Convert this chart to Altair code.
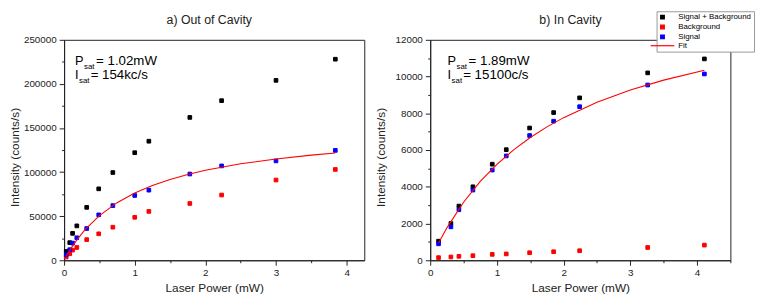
import altair as alt
import pandas as pd

FONT = "Liberation Sans"

series_names = ["Signal + Background", "Background", "Signal", "Fit"]
series_colors = ["#000000", "#ff0000", "#0000ff", "#ff0000"]

# ---- panel a) Out of Cavity ----
a_power = [0.03, 0.08, 0.12, 0.18, 0.32, 0.49, 0.69, 1.00, 1.20, 1.78, 2.23, 3.00, 3.84]
a_total = [10000, 20000, 30500, 39000, 60000, 81000, 99500, 122000, 135000, 162000, 181000, 204000, 228000]
a_background = [3700, 7400, 11500, 14500, 23400, 30000, 37500, 48700, 55400, 64400, 74000, 91000, 103000]
a_signal = [6300, 12000, 19500, 25500, 36000, 51500, 62000, 73500, 79500, 97800, 107000, 112700, 124600]
a_fit_power = [0.03, 0.1, 0.2, 0.3, 0.5, 0.75, 1.0, 1.25, 1.5, 1.75, 2.0, 2.5, 3.0, 3.5, 3.84]
a_fit_intensity = [4400, 13800, 25200, 35000, 50700, 65300, 76200, 84800, 91700, 97300, 102000,
                   109400, 114900, 119200, 121700]

# ---- panel b) In Cavity ----
b_power = [0.125, 0.31, 0.43, 0.64, 0.93, 1.14, 1.49, 1.85, 2.24, 3.26, 4.11]
b_total = [1040, 2000, 2950, 4000, 5230, 6020, 7200, 8040, 8840, 10200, 10960]
b_background = [145, 180, 215, 250, 320, 345, 410, 465, 520, 695, 825]
b_signal = [895, 1820, 2750, 3820, 4910, 5680, 6790, 7570, 8360, 9540, 10140]
b_fit_power = [0.125, 0.25, 0.5, 0.75, 1.0, 1.25, 1.5, 1.75, 2.0, 2.5, 3.0, 3.5, 4.11]
b_fit_intensity = [937, 1764, 3159, 4293, 5225, 6011, 6681, 7260, 7763, 8600, 9264, 9805, 10343]

a_x_ticks = [0, 0.5, 1, 1.5, 2, 2.5, 3, 3.5, 4]
a_y_ticks = list(range(0, 250001, 25000))
b_x_ticks = [0, 0.5, 1, 1.5, 2, 2.5, 3, 3.5, 4, 4.5]
b_y_ticks = list(range(0, 12001, 1000))

SQ = "M-0.62,-0.62H0.62V0.62H-0.62Z"
LINE = "M-4,0H4"

legend = alt.Legend(
    title=None, orient="none", legendX=602, legendY=-29,
    labelFont=FONT, labelFontSize=8, labelColor="black", labelOffset=12,
    symbolSize=36, symbolStrokeWidth=1.2,
    fillColor="white", strokeColor="#999999", padding=2, rowPadding=0,
)


def points_df(power, total, background, signal):
    rows = []
    for name, vals in [(series_names[0], total), (series_names[1], background), (series_names[2], signal)]:
        for p, v in zip(power, vals):
            rows.append({"power": p, "intensity": v, "series": name})
    return pd.DataFrame(rows)


def x_axis(vals):
    return alt.Axis(
        values=vals, title="Laser Power (mW)",
        labelExpr="datum.value % 1 == 0 ? format(datum.value, 'd') : ''",
        tickSize={"condition": {"test": "datum.value % 1 != 0", "value": 2.5}, "value": 5},
        labelFont=FONT, labelFontSize=10, labelColor="#222222", labelPadding=2,
        labelFlush=False, labelOverlap=False,
        titleFont=FONT, titleFontSize=12, titleFontWeight="normal", titleColor="#222222",
        titlePadding=6, grid=False, domainColor="#222222", tickColor="#222222",
    )


def y_axis(vals, major):
    return alt.Axis(
        values=vals, title="Intensity (counts/s)",
        labelExpr=f"datum.value % {major} == 0 ? format(datum.value, 'd') : ''",
        tickSize={"condition": {"test": f"datum.value % {major} != 0", "value": 2.5}, "value": 5},
        labelFont=FONT, labelFontSize=10, labelColor="#222222", labelPadding=3,
        labelOverlap=False,
        titleFont=FONT, titleFontSize=12, titleFontWeight="normal", titleColor="#222222",
        titleX=-50, titleY=119, titleBaseline="middle", titleAngle=270,
        grid=False, domainColor="#222222", tickColor="#222222",
    )


def text_piece(txt, x, y, size):
    return alt.Chart(alt.Data(values=[{}])).mark_text(
        text=txt, align="left", baseline="alphabetic", font=FONT, fontSize=size, color="black"
    ).encode(x=alt.value(x), y=alt.value(y))


def panel(title, power, total, background, signal, fit_p, fit_i, xdom, ydom, xt, yt, major,
          ann1, ann2, x0, dx):
    df = points_df(power, total, background, signal)
    xs = alt.Scale(domain=xdom, nice=False, zero=False)
    ys = alt.Scale(domain=ydom, nice=False, zero=False)
    xa = x_axis(xt)
    ya = y_axis(yt, major)
    pts = alt.Chart(df).mark_point(filled=True, size=36, opacity=1, strokeWidth=1).encode(
        x=alt.X("power:Q", scale=xs, axis=xa),
        y=alt.Y("intensity:Q", scale=ys, axis=ya),
        fill=alt.Fill("series:N", scale=alt.Scale(domain=series_names, range=series_colors), legend=legend),
        stroke=alt.Stroke("series:N", scale=alt.Scale(domain=series_names, range=series_colors), legend=legend),
        shape=alt.Shape("series:N", scale=alt.Scale(domain=series_names, range=[SQ, SQ, SQ, LINE]), legend=legend),
    )
    fit_df = pd.DataFrame({"power": fit_p, "intensity": fit_i})
    fit = alt.Chart(fit_df).mark_line(color="#ff0000", strokeWidth=1.1).encode(
        x=alt.X("power:Q", scale=xs, axis=xa), y=alt.Y("intensity:Q", scale=ys, axis=ya)
    )
    layers = [pts, fit,
              text_piece("P", x0, 26, 13), text_piece("sat", x0 + 9.2, 29.5, 8), text_piece(ann1, x0 + 21.5, 26, 13.5),
              text_piece("I", x0, 40, 13), text_piece("sat", x0 + 4.2, 43.5, 8), text_piece(ann2, x0 + 16, 40, 13.5)]
    return alt.layer(*layers).properties(
        width=305, height=224,
        title=alt.TitleParams(title, font=FONT, fontSize=12.5, fontWeight="normal", color="#222222",
                              offset=9, dx=dx),
    )


left = panel("a) Out of Cavity", a_power, a_total, a_background, a_signal, a_fit_power, a_fit_intensity,
             [0, 4.25], [0, 250000], a_x_ticks, a_y_ticks, 50000, "= 1.02mW", "= 154kc/s", 11, -5)
right = panel("b) In Cavity", b_power, b_total, b_background, b_signal, b_fit_power, b_fit_intensity,
              [0, 4.5], [0, 12000], b_x_ticks, b_y_ticks, 2000, "= 1.89mW", "= 15100c/s", 17.5, -10)

chart = alt.hconcat(left, right, spacing=67, bounds="flush").properties(
    padding={"left": 0, "top": 0, "right": 0, "bottom": 0},
    background="white",
).configure_view(stroke="#222222", strokeWidth=1)

chart.save("out.html", embed_options={"renderer": "svg", "actions": False})
